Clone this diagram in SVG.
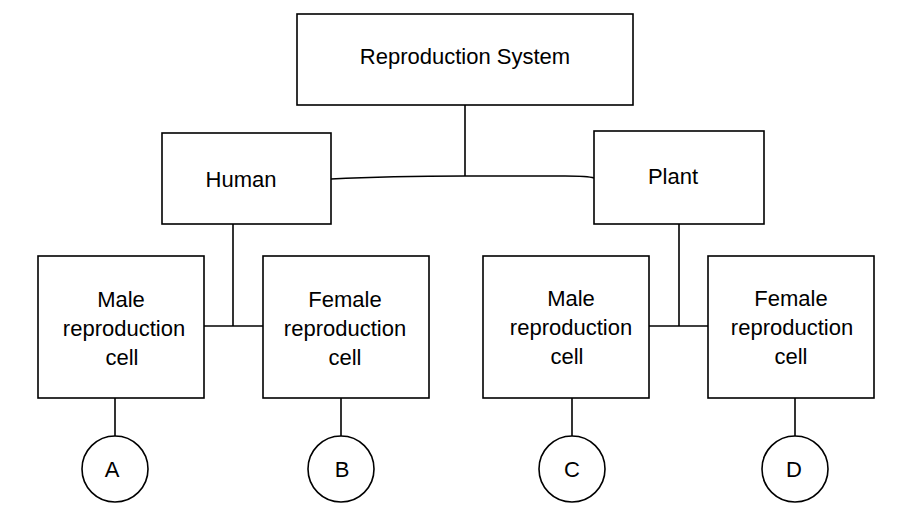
<svg xmlns="http://www.w3.org/2000/svg" width="911" height="517" viewBox="0 0 911 517">
<style>
.box{fill:#fff;stroke:#000;stroke-width:1.6}
.ln{fill:none;stroke:#000;stroke-width:1.6}
text{font-family:"Liberation Sans",Arial,sans-serif;font-size:22px;fill:#000;text-anchor:middle;dominant-baseline:central}
</style>
<rect width="911" height="517" fill="#fff"/>
<g id="connectors">
<line class="ln" x1="465" y1="105" x2="465" y2="176"/>
<path class="ln" d="M331,179 C380,176.5 420,176 465,176 L565,176 Q588,176 594,178"/>
<line class="ln" x1="233" y1="224" x2="233" y2="326"/>
<line class="ln" x1="204" y1="326" x2="263" y2="326"/>
<line class="ln" x1="679" y1="224" x2="679" y2="326"/>
<line class="ln" x1="649" y1="326" x2="708" y2="326"/>
<line class="ln" x1="115" y1="398" x2="115" y2="436"/>
<line class="ln" x1="341" y1="398" x2="341" y2="436"/>
<line class="ln" x1="572" y1="398" x2="572" y2="436"/>
<line class="ln" x1="795" y1="398" x2="795" y2="436"/>
</g>
<g id="root"><rect class="box" x="297" y="14" width="336" height="91"/><text x="465" y="56">Reproduction System</text></g>
<g id="human"><rect class="box" x="162" y="133" width="169" height="91"/><text x="241" y="179">Human</text></g>
<g id="plant"><rect class="box" x="594" y="131" width="170" height="93"/><text x="673" y="176">Plant</text></g>
<g id="human-male"><rect class="box" x="38" y="256" width="166" height="142"/><text x="121" y="299">Male</text><text x="124" y="328">reproduction</text><text x="122" y="357">cell</text></g>
<g id="human-female"><rect class="box" x="263" y="256" width="166" height="142"/><text x="345" y="299">Female</text><text x="345" y="328">reproduction</text><text x="345" y="357">cell</text></g>
<g id="plant-male"><rect class="box" x="483" y="256" width="166" height="142"/><text x="571" y="298">Male</text><text x="571" y="327">reproduction</text><text x="567" y="356">cell</text></g>
<g id="plant-female"><rect class="box" x="708" y="256" width="166" height="142"/><text x="791" y="298">Female</text><text x="792" y="327">reproduction</text><text x="791" y="356">cell</text></g>
<g id="a"><circle class="box" cx="115" cy="469" r="33"/><text x="112" y="469">A</text></g>
<g id="b"><circle class="box" cx="341" cy="469" r="33"/><text x="342" y="469">B</text></g>
<g id="c"><circle class="box" cx="572" cy="469" r="33"/><text x="572" y="469">C</text></g>
<g id="d"><circle class="box" cx="795" cy="469" r="33"/><text x="794" y="469">D</text></g>
</svg>
